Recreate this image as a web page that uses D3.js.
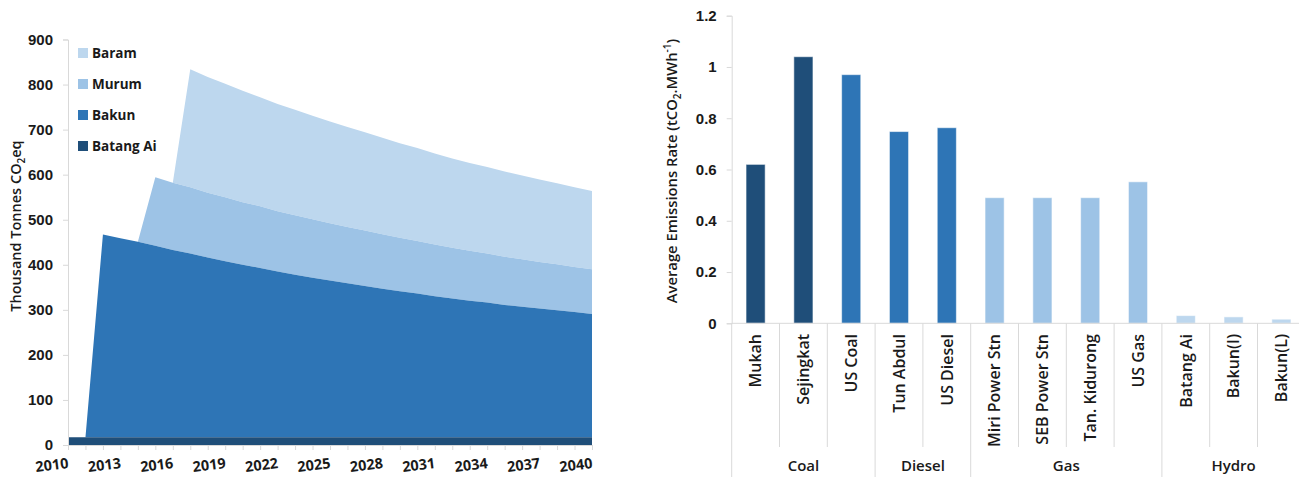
<!DOCTYPE html>
<html>
<head>
<meta charset="utf-8">
<script src="https://cdn.jsdelivr.net/npm/d3@7"></script>
<style>
  html, body { margin: 0; padding: 0; background: #ffffff; }
  svg { display: block; font-family: "Open Sans", "Noto Sans", sans-serif; }
</style>
</head>
<body>
<svg id="chart" width="1299" height="477"></svg>
<script>
// ---------- Left panel: reservoir emissions by hydro scheme (thousand t CO2eq) ----------
const years = d3.range(2010, 2041);
const yearTicks = [2010, 2013, 2016, 2019, 2022, 2025, 2028, 2031, 2034, 2037, 2040];
const emissionTicks = [0, 100, 200, 300, 400, 500, 600, 700, 800, 900];

const batangAi = [17, 17, 17, 17, 17, 17, 17, 17, 17, 17, 17, 17, 17, 17, 17, 17,
                  17, 17, 17, 17, 17, 17, 17, 17, 17, 17, 17, 17, 17, 17, 17];
const bakun = [null, 0, 450, 442, 434, 425, 416, 408, 399, 391, 383, 376, 368, 361, 354, 348,
               342, 336, 330, 324, 319, 313, 308, 303, 299, 294, 290, 286, 282, 278, 274];
const murum = [null, null, null, null, 0, 152, 149, 147, 144, 142, 139, 137, 134, 132, 130, 127,
               125, 123, 121, 119, 117, 115, 113, 111, 109, 107, 105, 103, 102, 100, 99];
const baram = [null, null, null, null, null, null, 0, 262, 257, 252, 247, 242, 238, 234, 230, 226,
               222, 218, 214, 210, 206, 202, 198, 195, 192, 189, 186, 183, 180, 177, 174];

const schemeNames = ["Batang Ai", "Bakun", "Murum", "Baram"];

// ---------- Right panel: average emission rate by plant (tCO2/MWh) ----------
const plants = ["Mukah", "Sejingkat", "US Coal", "Tun Abdul", "US Diesel",
                "Miri Power Stn", "SEB Power Stn", "Tan. Kidurong", "US Gas",
                "Batang Ai", "Bakun(I)", "Bakun(L)"];
const rates = [0.62, 1.04, 0.97, 0.748, 0.763, 0.49, 0.49, 0.49, 0.552, 0.030, 0.025, 0.016];
const fuelGroups = ["Coal", "Diesel", "Gas", "Hydro"];
const groupSizes = [3, 2, 4, 3];
const rateTicks = [0, 0.2, 0.4, 0.6, 0.8, 1, 1.2];

// ---------- shared styling ----------
const C = { navy: "#1f4e79", mid: "#2e75b6", light: "#9dc3e6", pale: "#bdd7ee" };
const schemeColor = { "Batang Ai": C.navy, "Bakun": C.mid, "Murum": C.light, "Baram": C.pale };
const plantColor = {
  "Mukah": C.navy, "Sejingkat": C.navy, "US Coal": C.mid, "Tun Abdul": C.mid, "US Diesel": C.mid,
  "Miri Power Stn": C.light, "SEB Power Stn": C.light, "Tan. Kidurong": C.light, "US Gas": C.light,
  "Batang Ai": C.pale, "Bakun(I)": C.pale, "Bakun(L)": C.pale
};
const axisGrey = "#d9d9d9";
const textCol = "#1a1a1a";

const svg = d3.select("#chart");

// ================= Left: stacked area =================
{
  const x = d3.scaleLinear().domain([2010, 2040]).range([68, 592]);
  const y = d3.scaleLinear().domain([0, 900]).range([445, 39.5]);
  const g = svg.append("g");

  const table = years.map((yr, i) => ({
    year: yr, "Batang Ai": batangAi[i], "Bakun": bakun[i], "Murum": murum[i], "Baram": baram[i]
  }));
  const stacked = d3.stack().keys(schemeNames).value((d, k) => d[k] == null ? 0 : d[k])(table);
  stacked.forEach(s => s.forEach(p => { p.key = s.key; }));

  const area = d3.area()
    .defined(d => d.data[d.key] != null)
    .x(d => x(d.data.year))
    .y0(d => y(d[0]))
    .y1(d => y(d[1]));

  // upper layers first so the lower ones sit crisply on shared edges
  g.selectAll("path.layer")
    .data(stacked.slice().reverse())
    .join("path")
    .attr("class", "layer")
    .attr("fill", s => schemeColor[s.key])
    .attr("d", s => area(s));

  // y axis
  const yAxis = g.append("g").attr("transform", "translate(68,0)")
    .call(d3.axisLeft(y).tickValues(emissionTicks).tickSize(5).tickPadding(10).tickFormat(d3.format("d")));
  yAxis.select(".domain").attr("stroke", axisGrey);
  yAxis.selectAll(".tick line").attr("stroke", axisGrey);
  yAxis.selectAll("text").attr("fill", textCol).style("font-size", "15px").style("font-weight", 700);

  // x axis: a tick every year, label every third year
  const xAxis = g.append("g").attr("transform", "translate(0,445)")
    .call(d3.axisBottom(x).tickValues(years).tickSize(5).tickFormat(""));
  xAxis.select(".domain").attr("stroke", axisGrey);
  xAxis.selectAll(".tick line").attr("stroke", axisGrey);

  g.selectAll("text.year")
    .data(yearTicks)
    .join("text")
    .attr("class", "year")
    .attr("transform", d => `translate(${x(d) + 1},468) rotate(-7)`)
    .attr("text-anchor", "end")
    .attr("fill", textCol)
    .style("font-size", "14.5px").style("font-weight", 700)
    .text(d => d);

  // axis title
  const t = g.append("text")
    .attr("transform", "translate(21,226) rotate(-90)")
    .attr("text-anchor", "middle")
    .attr("fill", textCol)
    .style("font-size", "14.5px").style("font-weight", 600);
  t.append("tspan").text("Thousand Tonnes CO");
  t.append("tspan").attr("dy", 4).style("font-size", "10px").text("2");
  t.append("tspan").attr("dy", -4).text("eq");

  // legend, top layer first
  const legendItems = schemeNames.slice().reverse();
  const lg = g.selectAll("g.legend")
    .data(legendItems)
    .join("g")
    .attr("class", "legend")
    .attr("transform", (d, i) => `translate(78,${53 + i * 31})`);
  lg.append("rect").attr("x", 0).attr("y", -5).attr("width", 10).attr("height", 10)
    .attr("fill", d => schemeColor[d]);
  lg.append("text").attr("x", 14).attr("dy", "0.35em")
    .attr("fill", textCol)
    .style("font-size", "13.5px").style("font-weight", 700)
    .text(d => d);
}

// ================= Right: bar chart with grouped categories =================
{
  const x = d3.scaleBand().domain(plants).range([731.7, 1305.3]).paddingInner(0.6).paddingOuter(0.3);
  const y = d3.scaleLinear().domain([0, 1.2]).range([323.3, 15.7]);
  const g = svg.append("g");

  g.selectAll("rect.bar")
    .data(plants.map((p, i) => ({ plant: p, rate: rates[i] })))
    .join("rect")
    .attr("class", "bar")
    .attr("x", d => x(d.plant))
    .attr("width", x.bandwidth())
    .attr("y", d => y(d.rate))
    .attr("height", d => y(0) - y(d.rate))
    .attr("fill", d => plantColor[d.plant])
    .attr("stroke", "rgba(255,255,255,0.55)")
    .attr("stroke-width", 1);

  // y axis
  const yAxis = g.append("g").attr("transform", "translate(731.7,0)")
    .call(d3.axisLeft(y).tickValues(rateTicks).tickSize(5).tickPadding(10).tickFormat(d => d3.format("")(d)));
  yAxis.select(".domain").attr("stroke", axisGrey);
  yAxis.selectAll(".tick line").attr("stroke", axisGrey);
  yAxis.selectAll("text").attr("fill", textCol).style("font-size", "15px").style("font-weight", 700);

  // baseline
  g.append("line").attr("x1", 731.7).attr("x2", 1305).attr("y1", y(0)).attr("y2", y(0))
    .attr("stroke", axisGrey);

  // separators between categories; group boundaries run the full depth
  const step = x.step();
  const x0 = x.range()[0];
  const boundaries = new Set([0]);
  let acc = 0;
  groupSizes.forEach(n => { acc += n; boundaries.add(acc); });
  g.selectAll("line.sep")
    .data(d3.range(plants.length + 1))
    .join("line")
    .attr("class", "sep")
    .attr("x1", i => x0 + i * step).attr("x2", i => x0 + i * step)
    .attr("y1", y(0))
    .attr("y2", i => boundaries.has(i) ? 477 : 447)
    .attr("stroke", axisGrey);

  // category labels
  g.selectAll("text.cat")
    .data(plants)
    .join("text")
    .attr("class", "cat")
    .attr("transform", d => `translate(${x(d) + x.bandwidth() / 2},334) rotate(-90)`)
    .attr("text-anchor", "end")
    .attr("dy", "0.36em")
    .attr("fill", textCol)
    .style("font-size", "16px").style("font-weight", 600)
    .text(d => d);

  // group labels
  let start = 0;
  const groupCenters = groupSizes.map(n => {
    const c = x0 + (start + n / 2) * step;
    start += n;
    return c;
  });
  g.selectAll("text.grp")
    .data(fuelGroups)
    .join("text")
    .attr("class", "grp")
    .attr("x", (d, i) => groupCenters[i])
    .attr("y", 471)
    .attr("text-anchor", "middle")
    .attr("fill", textCol)
    .style("font-size", "15px").style("font-weight", 600)
    .text(d => d);

  // axis title
  const t = g.append("text")
    .attr("transform", "translate(677,171) rotate(-90)")
    .attr("text-anchor", "middle")
    .attr("fill", textCol)
    .style("font-size", "14.8px").style("font-weight", 600);
  t.append("tspan").text("Average Emissions Rate (tCO");
  t.append("tspan").attr("dy", 4).style("font-size", "10px").text("2");
  t.append("tspan").attr("dy", -4).text(".MWh");
  t.append("tspan").attr("dy", -6).style("font-size", "10px").text("-1");
  t.append("tspan").attr("dy", 6).text(")");
}
</script>
</body>
</html>
